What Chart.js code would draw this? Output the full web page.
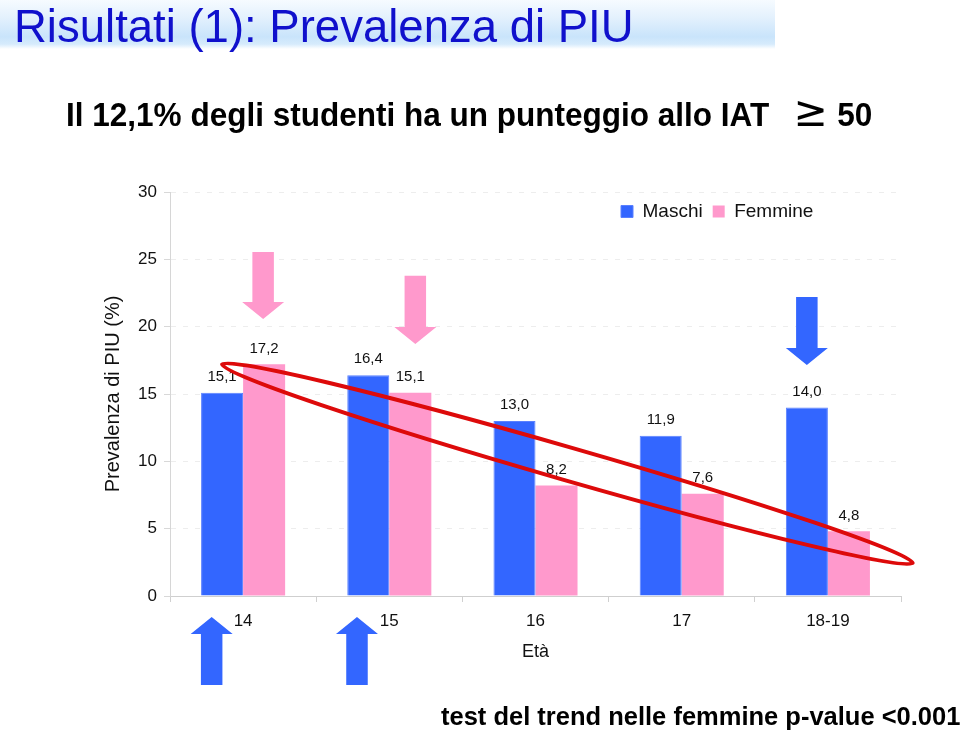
<!DOCTYPE html>
<html><head><meta charset="utf-8">
<script src="https://cdn.jsdelivr.net/npm/chart.js@4.4.0/dist/chart.umd.min.js"></script>
<style>
html,body{margin:0;padding:0;background:#fff;width:960px;height:733px;overflow:hidden;font-family:"Liberation Sans",Arial,sans-serif;}
#band{position:absolute;left:0;top:0;width:775px;height:49px;background:linear-gradient(to bottom,#f6fbff 0%,#e4f1fd 35%,#c9e4fb 75%,#d6ebfc 90%,#ffffff 100%);}
#title{position:absolute;left:14px;top:4px;font-size:45.5px;line-height:1;color:#1010cc;white-space:nowrap;}
#sub{position:absolute;left:66px;top:98px;font-size:33px;line-height:1;font-weight:bold;color:#000;white-space:nowrap;transform:scaleX(0.955);transform-origin:0 0;}
#sub .ge{font-family:"DejaVu Sans",sans-serif;font-weight:normal;font-size:43px;line-height:0;margin-left:25px;margin-right:1px;}
#foot{position:absolute;left:441px;top:704px;font-size:25.5px;line-height:1;font-weight:bold;color:#000;white-space:nowrap;}
#wrap{position:absolute;left:0;top:0;width:960px;height:733px;}
</style>
</head><body>
<div id="band"></div>
<div id="wrap"><canvas id="c" width="960" height="733"></canvas></div>
<div id="title">Risultati (1): Prevalenza di PIU</div>
<div id="sub">Il 12,1% degli studenti ha un punteggio allo IAT<span class="ge">≥</span> 50</div>
<div id="foot">test del trend nelle femmine p-value &lt;0.001</div>
<script>
// ---- data ----
const categories = ['14', '15', '16', '17', '18-19'];
const seriesNames = ['Maschi', 'Femmine'];
const maschi = [15.1, 16.4, 13.0, 11.9, 14.0];
const femmine = [17.2, 15.1, 8.2, 7.6, 4.8];
const yMin = 0, yMax = 30, yStep = 5;
const axisTitleY = 'Prevalenza di PIU (%)';
const axisTitleX = 'Età';

// annotations (in data units: category index + fraction of category width, value)
const arrowMarks = [
  {cat: 0, off: 0.137, from: 25.55, to: 20.57, color: '#ff99cc'},
  {cat: 1, off: 0.178, from: 23.78, to: 18.72, color: '#ff99cc'},
  {cat: 4, off: -0.144, from: 22.2, to: 17.16, color: '#3366ff'},
  {cat: 0, off: -0.215, from: -6.6, to: -1.56, color: '#3366ff'},
  {cat: 1, off: -0.221, from: -6.6, to: -1.56, color: '#3366ff'}
];
const trendEllipse = {cat1: 0, off1: -0.144, v1: 17.2, cat2: 4, off2: 0.58, v2: 2.45};

const BLUE = '#3366ff', PINK = '#ff99cc';
Chart.defaults.font.family = '"Liberation Sans", Arial, sans-serif';
Chart.defaults.color = '#111';

const fmt = v => v.toFixed(1).replace('.', ',');

const legendPlacer = {
  id: 'legendPlacer',
  afterLayout(chart) {
    const lg = chart.legend, ca = chart.chartArea;
    if (!lg) return;
    lg.left = ca.right - 290;
    lg.right = ca.right;
    lg.top = ca.top;
    lg.bottom = ca.top + lg.height;
  }
};

function drawArrow(ctx, cx, yTail, yTip, color) {
  const sw = 21.5, hw = 42, hl = 17;
  const dir = Math.sign(yTip - yTail);
  const yB = yTip - dir * hl;
  ctx.beginPath();
  ctx.moveTo(cx - sw / 2, yTail);
  ctx.lineTo(cx + sw / 2, yTail);
  ctx.lineTo(cx + sw / 2, yB);
  ctx.lineTo(cx + hw / 2, yB);
  ctx.lineTo(cx, yTip);
  ctx.lineTo(cx - hw / 2, yB);
  ctx.lineTo(cx - sw / 2, yB);
  ctx.closePath();
  ctx.fillStyle = color;
  ctx.fill();
}

const overlay = {
  id: 'overlay',
  afterDatasetsDraw(chart) {
    const ctx = chart.ctx;
    ctx.save();
    ctx.font = '15px "Liberation Sans", Arial, sans-serif';
    ctx.fillStyle = '#111';
    ctx.textAlign = 'center';
    ctx.textBaseline = 'middle';
    chart.data.datasets.forEach((ds, i) => {
      chart.getDatasetMeta(i).data.forEach((el, j) => {
        ctx.fillText(fmt(ds.data[j]), el.x, el.y - 16);
      });
    });
    ctx.restore();
  },
  afterDraw(chart) {
    const ctx = chart.ctx, xs = chart.scales.x, ys = chart.scales.y;
    const cw = xs.getPixelForValue(1) - xs.getPixelForValue(0);
    const px = (cat, off) => xs.getPixelForValue(cat) + off * cw;
    ctx.save();
    arrowMarks.forEach(a => {
      drawArrow(ctx, px(a.cat, a.off), ys.getPixelForValue(a.from), ys.getPixelForValue(a.to), a.color);
    });
    // trend ellipse
    const x1 = px(trendEllipse.cat1, trendEllipse.off1), y1 = ys.getPixelForValue(trendEllipse.v1);
    const x2 = px(trendEllipse.cat2, trendEllipse.off2), y2 = ys.getPixelForValue(trendEllipse.v2);
    const cx = (x1 + x2) / 2, cy = (y1 + y2) / 2;
    const a = Math.hypot(x2 - x1, y2 - y1) / 2;
    const ang = Math.atan2(y2 - y1, x2 - x1);
    ctx.beginPath();
    ctx.ellipse(cx, cy, a, 16.5, ang, 0, Math.PI * 2);
    ctx.strokeStyle = '#dd0a0a';
    ctx.lineWidth = 4;
    ctx.stroke();
    ctx.restore();
  }
};

new Chart(document.getElementById('c'), {
  type: 'bar',
  data: {
    labels: categories,
    datasets: [
      {label: seriesNames[0], data: maschi, backgroundColor: BLUE, borderColor: '#5a80ff', borderWidth: 1},
      {label: seriesNames[1], data: femmine, backgroundColor: PINK, borderColor: PINK, borderWidth: 0}
    ]
  },
  options: {
    responsive: false,
    animation: false,
    layout: {padding: {left: 100, right: 59, top: 153, bottom: 67}},
    datasets: {bar: {barPercentage: 1, categoryPercentage: 0.575}},
    plugins: {
      legend: {
        position: 'top',
        align: 'start',
        labels: {boxWidth: 12, boxHeight: 12, padding: 10, font: {size: 19}, color: '#111'}
      },
      tooltip: {enabled: false}
    },
    scales: {
      x: {
        offset: true,
        grid: {display: true, drawOnChartArea: false, drawTicks: true, tickLength: 6, tickColor: '#d0d0d0', offset: true},
        border: {display: true, color: '#cfcfcf', width: 1},
        ticks: {font: {size: 17}, color: '#111', padding: 9, maxRotation: 0},
        title: {display: true, text: axisTitleX, font: {size: 18}, color: '#111', padding: {top: 0, bottom: 3}},
        afterFit(s) { s.height = 70; }
      },
      y: {
        min: yMin, max: yMax,
        ticks: {stepSize: yStep, font: {size: 17}, color: '#111', padding: 7},
        grid: {color: 'rgba(0,0,0,0.07)', tickColor: '#d8d8d8', tickLength: 6, tickBorderDash: []},
        border: {display: true, color: '#d6d6d6', width: 1, dash: [5, 7]},
        title: {display: true, text: axisTitleY, font: {size: 20}, color: '#111', padding: {top: 1, bottom: 0}},
        afterFit(s) { s.width = 70; }
      }
    }
  },
  plugins: [legendPlacer, overlay]
});
</script>
</body></html>
